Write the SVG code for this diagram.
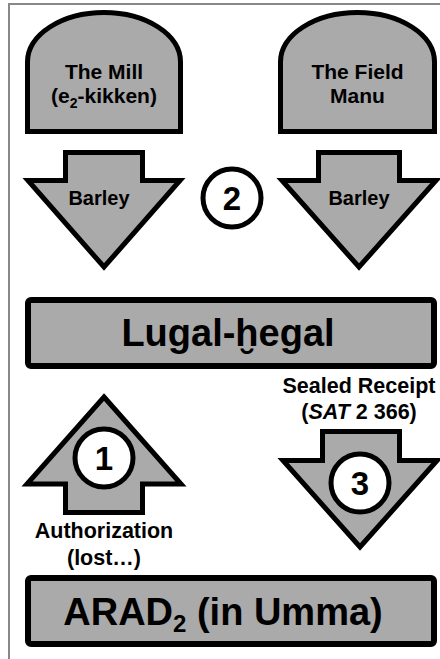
<svg xmlns="http://www.w3.org/2000/svg" width="440" height="659" viewBox="0 0 440 659">
<style>
.shape{fill:#aaaaaa;stroke:#000;stroke-width:5;stroke-linejoin:miter;stroke-miterlimit:10}
.box{fill:#aaaaaa;stroke:#000;stroke-width:6}
.num{fill:#fff;stroke:#000;stroke-width:5}
text{font-family:"Liberation Sans","DejaVu Sans",Arial,sans-serif;font-weight:bold;fill:#000;text-anchor:middle}
.lbl{font-size:20px}
.nm{font-size:21px}
.ext{font-size:21.5px}
.big{font-size:38px}
.dig{font-size:33px}
</style>
<rect x="0" y="0" width="440" height="659" fill="#fff"/>
<path d="M9,659 V4 H440" fill="none" stroke="#888" stroke-width="2"/>

<g id="mill">
<path class="shape" d="M27.5,131.5 V62 A76.5,49.5 0 0 1 180.5,62 V131.5 Z"/>
<text class="nm" x="104" y="79">The Mill</text>
<text class="nm" x="104" y="103">(e<tspan font-size="14" dy="5">2</tspan><tspan dy="-5">-kikken)</tspan></text>
</g>

<g id="field">
<path class="shape" d="M280.5,131.5 V62 A77,49.5 0 0 1 434.5,62 V131.5 Z"/>
<text class="nm" x="357.5" y="79">The Field</text>
<text class="nm" x="357.5" y="103">Manu</text>
</g>

<g id="lugal">
<rect class="box" x="28" y="300" width="406" height="66" rx="3"/>
<text class="big" x="228" y="346">Lugal-ḫegal</text>
</g>

<g id="arad">
<rect class="box" x="28" y="578" width="406" height="66" rx="3"/>
<text class="big" x="223" y="625">ARAD<tspan font-size="24" dy="7">2</tspan><tspan dy="-7"> (in Umma)</tspan></text>
</g>

<g id="connectors">
<g id="barley-left">
<polygon class="shape" points="65.5,152.5 142.5,152.5 142.5,180.5 180,180.5 104,267 28,180.5 65.5,180.5"/>
<text class="lbl" x="99" y="205">Barley</text>
</g>
<g id="barley-right">
<polygon class="shape" points="318.5,152.5 399.5,152.5 399.5,180.5 436,180.5 359,267 282,180.5 318.5,180.5"/>
<text class="lbl" x="359" y="205">Barley</text>
</g>
<g id="step2">
<circle class="num" cx="232" cy="198" r="29"/>
<text class="dig" x="232" y="210">2</text>
</g>
<g id="authorization">
<polygon class="shape" points="104,397 181,484 142.5,484 142.5,512.5 65.5,512.5 65.5,484 27,484"/>
<circle class="num" cx="104" cy="458" r="29"/>
<text class="dig" x="104" y="470">1</text>
<text class="ext" x="104" y="538">Authorization</text>
<text class="ext" x="104" y="565">(lost…)</text>
</g>
<g id="receipt">
<text class="ext" x="359" y="393">Sealed Receipt</text>
<text class="ext" x="359" y="419">(<tspan font-style="italic">SAT</tspan> 2 366)</text>
<polygon class="shape" points="322.5,431.5 399.5,431.5 399.5,460.5 437,460.5 360,547 283,460.5 322.5,460.5"/>
<circle class="num" cx="360" cy="483" r="29"/>
<text class="dig" x="360" y="495">3</text>
</g>
</g>
</svg>
